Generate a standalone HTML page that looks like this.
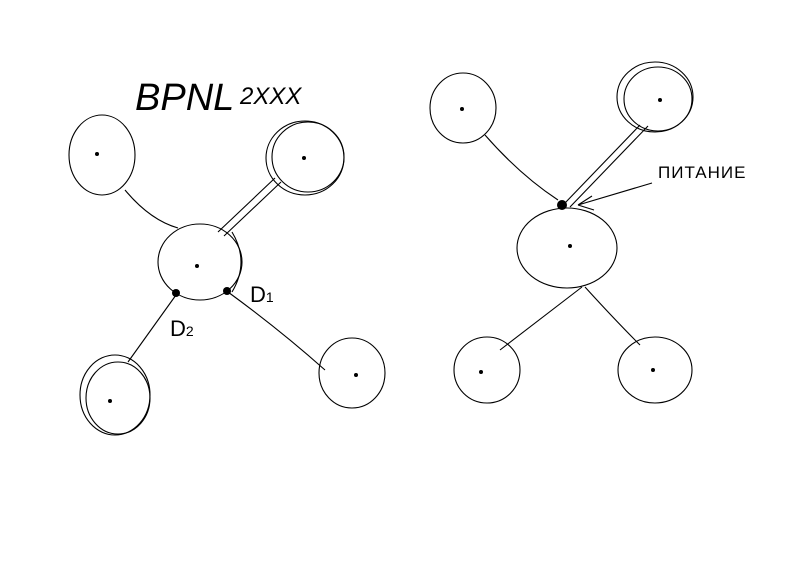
<!DOCTYPE html>
<html><head><meta charset="utf-8"><style>
html,body{margin:0;padding:0;background:#fff;}
svg{display:block;}
text{font-family:"Liberation Sans",sans-serif;fill:#000;}
</style></head><body>
<svg width="800" height="564" viewBox="0 0 800 564" xmlns="http://www.w3.org/2000/svg">
<g fill="none" stroke="#000" stroke-width="1.1">
<!-- Left group -->
<ellipse cx="102" cy="155" rx="33" ry="40"/>
<ellipse cx="305" cy="158" rx="39" ry="37"/>
<ellipse cx="308" cy="157" rx="36" ry="35"/>
<ellipse cx="200" cy="262" rx="42" ry="38"/>
<path d="M232 232 Q250 262 232 292"/>
<ellipse cx="115" cy="395" rx="35" ry="40"/>
<ellipse cx="118" cy="398" rx="32" ry="36"/>
<ellipse cx="352" cy="373" rx="33" ry="35"/>
<path d="M125 190 Q150 220 178 228"/>
<path d="M275 178 L218 232"/>
<path d="M281 182 L224 236"/>
<path d="M176 295 L128 362"/>
<path d="M228 292 Q280 330 325 370"/>
<!-- Right group -->
<ellipse cx="463" cy="108" rx="33" ry="35"/>
<ellipse cx="655" cy="97" rx="38" ry="35"/>
<ellipse cx="658" cy="99" rx="34" ry="32"/>
<ellipse cx="567" cy="248" rx="50" ry="40"/>
<ellipse cx="487" cy="370" rx="33" ry="33"/>
<ellipse cx="655" cy="370" rx="37" ry="33"/>
<path d="M485 135 Q520 175 558 200"/>
<path d="M640 125 L565 203"/>
<path d="M648 126 L570 207"/>
<path d="M582 287 L500 350"/>
<path d="M585 287 Q615 320 640 345"/>
<path d="M652 183 L578 205 M578 205 L592 196 M578 205 L594 210"/>
</g>
<g fill="#000">
<circle cx="176" cy="293" r="4"/>
<circle cx="227" cy="291" r="4"/>
<circle cx="562" cy="205" r="5"/>
<circle cx="97" cy="154" r="2"/><circle cx="304" cy="158" r="2"/><circle cx="197" cy="266" r="2"/>
<circle cx="110" cy="401" r="2"/><circle cx="356" cy="375" r="2"/>
<circle cx="462" cy="109" r="2"/><circle cx="660" cy="100" r="2"/><circle cx="570" cy="246" r="2"/>
<circle cx="481" cy="372" r="2"/><circle cx="653" cy="370" r="2"/>
</g>
<text x="135" y="110" font-size="38" font-style="italic">BPNL</text>
<text x="240" y="104" font-size="24" font-style="italic">2XXX</text>
<text x="250" y="302" font-size="22">D<tspan font-size="14">1</tspan></text>
<text x="170" y="336" font-size="22">D<tspan font-size="14">2</tspan></text>
<text x="658" y="178" font-size="17" letter-spacing="1">ПИТАНИЕ</text>
</svg>
</body></html>
